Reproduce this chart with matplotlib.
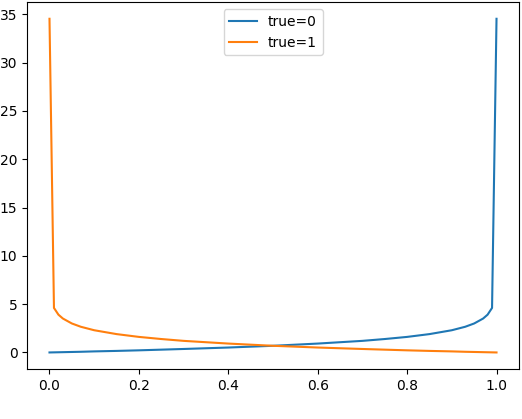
import matplotlib
matplotlib.use("Agg")
import matplotlib.pyplot as plt

# predicted probability
prob = [0.0, 0.01, 0.02, 0.03, 0.05, 0.07, 0.1, 0.15, 0.2, 0.25, 0.3, 0.4, 0.5,
        0.6, 0.7, 0.75, 0.8, 0.85, 0.9, 0.93, 0.95, 0.97, 0.98, 0.99, 1.0]
# loss when true label is 0
loss_true0 = [0.0, 0.01, 0.02, 0.03, 0.05, 0.07, 0.11, 0.16, 0.22, 0.29, 0.36, 0.51, 0.69,
              0.92, 1.20, 1.39, 1.61, 1.90, 2.30, 2.66, 3.00, 3.51, 3.91, 4.61, 34.54]
# loss when true label is 1
loss_true1 = [34.54, 4.61, 3.91, 3.51, 3.00, 2.66, 2.30, 1.90, 1.61, 1.39, 1.20, 0.92, 0.69,
              0.51, 0.36, 0.29, 0.22, 0.16, 0.11, 0.07, 0.05, 0.03, 0.02, 0.01, 0.0]

fig, ax = plt.subplots(figsize=(5.22, 4.19), dpi=100)
fig.subplots_adjust(left=0.052, right=0.994, top=0.995, bottom=0.119)
ax.plot(prob, loss_true0, label="true=0")
ax.plot(prob, loss_true1, label="true=1")
ax.legend(loc="upper center")
fig.savefig("out.png", dpi=100)
